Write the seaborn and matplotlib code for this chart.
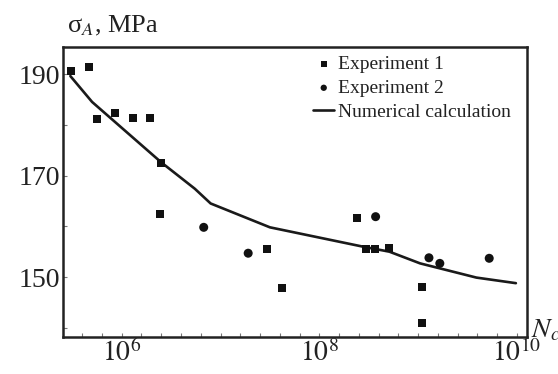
import matplotlib
matplotlib.use('Agg')
import matplotlib.pyplot as plt
import matplotlib.ticker as mticker
import seaborn as sns
import numpy as np
import pandas as pd

# log10 of cycles / stress amplitude in MPa
exp1_logN = [5.49, 5.67, 5.75, 5.93, 6.11, 6.29, 6.40, 6.39, 7.47, 7.62,
             8.38, 8.47, 8.56, 8.71, 9.04, 9.04]
exp1_sigma = [190.6, 191.3, 181.2, 182.3, 181.4, 181.4, 172.5, 162.4, 155.6, 147.8,
              161.7, 155.5, 155.5, 155.8, 148.0, 140.9]

exp2_logN = [6.83, 7.28, 8.57, 9.11, 9.22, 9.72]
exp2_sigma = [159.8, 154.7, 161.9, 153.8, 152.7, 153.7]

calc_logN = [5.48, 5.70, 6.40, 6.74, 6.90, 7.50, 8.44, 8.71, 9.02, 9.59, 9.99]
calc_sigma = [189.6, 184.5, 172.6, 167.4, 164.5, 159.8, 156.0, 155.0, 152.7, 149.9, 148.8]

exp1 = pd.DataFrame({'N': 10.0 ** np.array(exp1_logN), 'sigma': exp1_sigma})
exp2 = pd.DataFrame({'N': 10.0 ** np.array(exp2_logN), 'sigma': exp2_sigma})
calc = pd.DataFrame({'N': 10.0 ** np.array(calc_logN), 'sigma': calc_sigma})

sns.set_style('ticks')
plt.rcParams['font.family'] = ['Liberation Serif', 'DejaVu Serif']
plt.rcParams['mathtext.fontset'] = 'stix'

fig = plt.figure(figsize=(5.58, 3.74), dpi=100)
ax = fig.add_axes([0.113, 0.099, 0.831, 0.775])

sns.lineplot(data=calc, x='N', y='sigma', ax=ax, color='#1a1a1a', lw=1.9,
             label='Numerical calculation', zorder=2)
sns.scatterplot(data=exp1, x='N', y='sigma', ax=ax, marker='s', s=34, color='#111111',
                edgecolor='none', label='Experiment 1', zorder=3)
sns.scatterplot(data=exp2, x='N', y='sigma', ax=ax, marker='o', s=42, color='#111111',
                edgecolor='none', label='Experiment 2', zorder=3)

ax.set_xscale('log')
ax.set_xlim(10 ** 5.406, 10 ** 10.1)
ax.set_ylim(138.2, 195.3)

ax.xaxis.set_major_locator(mticker.FixedLocator([1e6, 1e8, 1e10]))
ax.xaxis.set_major_formatter(mticker.FixedFormatter([r'$10^{6}$', r'$10^{8}$', r'$10^{10}$']))
ax.xaxis.set_minor_locator(mticker.FixedLocator(10 ** np.arange(5.6, 10.05, 0.2)))
ax.xaxis.set_minor_formatter(mticker.NullFormatter())
ax.yaxis.set_major_locator(mticker.FixedLocator([150, 170, 190]))
ax.yaxis.set_minor_locator(mticker.FixedLocator([140, 160, 180]))

ax.tick_params(which='both', direction='in', length=3, width=0.8, color='#777777',
               labelsize=20, labelcolor='#222222')
ax.tick_params(axis='x', pad=2)
ax.tick_params(axis='y', pad=2)

for sp in ax.spines.values():
    sp.set_linewidth(1.8)
    sp.set_color('#222222')

ax.set_xlabel('')
ax.set_ylabel('')
fig.text(0.120, 0.930, r'σ$_{A}$, MPa', fontsize=19, color='#222222', va='center', ha='left')
fig.text(0.952, 0.115, r'$N_c$', fontsize=20, color='#222222', va='center', ha='left')

h, l = ax.get_legend_handles_labels()
order = [l.index('Experiment 1'), l.index('Experiment 2'), l.index('Numerical calculation')]
leg = ax.legend([h[i] for i in order], [l[i] for i in order], loc='upper right',
                bbox_to_anchor=(1.0, 1.025), frameon=False, fontsize=14,
                handlelength=1.1, handletextpad=0.2, labelspacing=0.32, borderpad=0.3,
                markerscale=0.7)
for t in leg.get_texts():
    t.set_color('#222222')

fig.savefig('out.png', dpi=100)
